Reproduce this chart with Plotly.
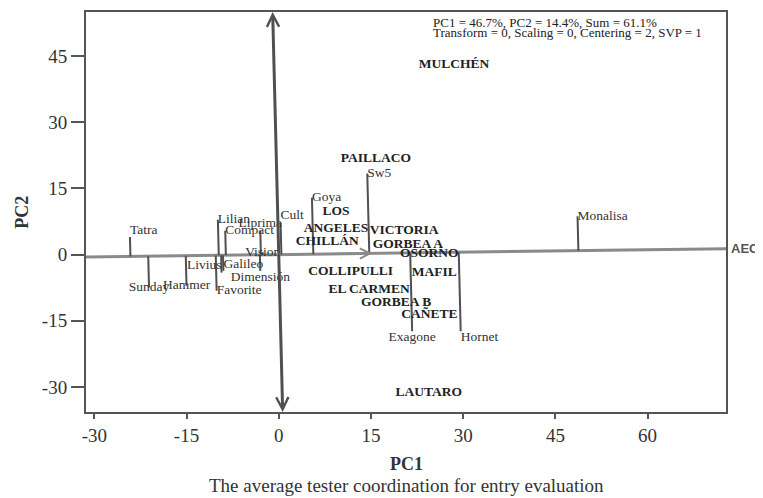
import plotly.graph_objects as go

# ---------------- data ----------------
genotypes = ["Tatra", "Sunday", "Hammer", "Lilian", "Compact", "Liprima", "Cult",
             "Vision", "Dimensión", "Livius", "Galileo", "Favorite", "Goya", "Sw5",
             "Exagone", "Hornet", "Monalisa"]
geno_pc1 = [-24.2, -21.1, -15.0, -9.9, -8.7, -3.0, 0.3,
            -2.6, -3.0, -9.3, -9.0, -10.1, 5.4, 14.4,
            21.7, 29.6, 48.6]
geno_pc2 = [4.0, -7.5, -7.1, 7.9, 5.4, 5.4, 7.2,
            0.5, -3.7, -4.1, -3.7, -8.2, 12.9, 18.4,
            -17.4, -17.4, 8.7]
geno_textpos = ["top right", "middle center", "middle center", "middle right",
                "middle right", "top center", "top right", "middle center",
                "bottom center", "top left", "top right", "middle right",
                "middle right", "middle right", "bottom center", "bottom right",
                "middle right"]

environments = ["MULCHÉN", "PAILLACO", "LOS ANGELES", "CHILLÁN", "VICTORIA",
                "GORBEA A", "OSORNO", "COLLIPULLI", "MAFIL", "EL CARMEN",
                "GORBEA B", "CAÑETE", "LAUTARO"]
env_pc1 = [28.5, 15.8, 9.3, 7.9, 20.4, 21.0, 24.5, 11.7, 25.3, 14.7, 19.1, 24.5, 24.4]
env_pc2 = [43.0, 21.8, 7.8, 2.9, 5.4, 2.2, 0.1, -3.9, -4.1, -8.0, -11.0, -13.7, -31.4]

aec_slope = 0.018          # direction of the average environment axis
aec_mean_pc1 = 15.2        # average environment (arrow tip) on the AEC
x_range = [-31.35, 72.75]
y_range = [-35.7, 55.0]
x_ticks = [-30, -15, 0, 15, 30, 45, 60]
y_ticks = [-30, -15, 0, 15, 30, 45]

info_lines = ["PC1 = 46.7%, PC2 = 14.4%, Sum = 61.1%",
              "Transform = 0, Scaling = 0, Centering = 2, SVP = 1"]
caption = "The average tester coordination for entry evaluation"

# ---------------- figure ----------------
SERIF = "Liberation Serif, Times New Roman, serif"
k = aec_slope
fig = go.Figure()

# AEC abscissa
fig.add_trace(go.Scatter(x=x_range, y=[k * x_range[0], k * x_range[1]], mode="lines",
                         line=dict(color="#8a8a8a", width=3), hoverinfo="skip",
                         showlegend=False))

# projection lines of genotypes onto the AEC
lx, ly = [], []
for gx, gy in zip(geno_pc1, geno_pc2):
    t = (gx + k * gy) / (1 + k * k)
    lx += [gx, t, None]
    ly += [gy, k * t, None]
fig.add_trace(go.Scatter(x=lx, y=ly, mode="lines", line=dict(color="#505050", width=2),
                         hoverinfo="skip", showlegend=False))

# genotype labels
fig.add_trace(go.Scatter(x=geno_pc1, y=geno_pc2, mode="text", text=genotypes,
                         textposition=geno_textpos,
                         textfont=dict(family=SERIF, size=13.5, color="#333333"),
                         cliponaxis=False, showlegend=False))

# environment labels
env_text = ["<b>" + e.replace("LOS ", "LOS<br>") + "</b>" for e in environments]
fig.add_trace(go.Scatter(x=env_pc1, y=env_pc2, mode="text", text=env_text,
                         textposition="middle center",
                         textfont=dict(family=SERIF, size=13.5, color="#222222"),
                         cliponaxis=False, showlegend=False))

annotations = []
# ATC ordinate (double arrow, perpendicular to AEC)
for yend in (y_range[1], y_range[0]):
    annotations.append(dict(x=-k * yend, y=yend, ax=0, ay=0, axref="x", ayref="y",
                            xref="x", yref="y", text="", showarrow=True,
                            arrowhead=5, arrowsize=0.8, arrowwidth=3,
                            arrowcolor="#505050", standoff=0))
# average environment arrow
annotations.append(dict(x=aec_mean_pc1, y=k * aec_mean_pc1, ax=aec_mean_pc1 - 6,
                        ay=k * (aec_mean_pc1 - 6), axref="x", ayref="y", xref="x", yref="y",
                        text="", showarrow=True, arrowhead=5, arrowsize=1.0,
                        arrowwidth=2, arrowcolor="#8a8a8a", standoff=0))
# AEC label
annotations.append(dict(x=x_range[1], y=k * x_range[1], xref="x", yref="y",
                        text="<b>AEC</b>", showarrow=False, xanchor="left", xshift=3,
                        font=dict(family="Liberation Sans, Arial, sans-serif", size=13,
                                  color="#555555")))
# info text
for i, line in enumerate(info_lines):
    annotations.append(dict(x=0.5386, y=0.9734 - 0.0256 * i, xref="paper", yref="paper",
                            text=line, showarrow=False, xanchor="left", yanchor="middle",
                            font=dict(family=SERIF, size=13, color="#222222")))
# axis titles and caption
annotations.append(dict(x=0.5, y=-0.129, xref="paper", yref="paper", text="<b>PC1</b>",
                        showarrow=False, yanchor="middle",
                        font=dict(family=SERIF, size=18, color="#333333")))
annotations.append(dict(x=-0.1005, y=0.5, xref="paper", yref="paper", text="<b>PC2</b>",
                        showarrow=False, textangle=-90, xanchor="center", yanchor="middle",
                        font=dict(family=SERIF, size=18, color="#333333")))
annotations.append(dict(x=0.5, y=-0.184, xref="paper", yref="paper", text=caption,
                        showarrow=False, yanchor="middle",
                        font=dict(family=SERIF, size=19, color="#333333")))

fig.update_layout(
    width=755, height=490,
    margin=dict(l=78, r=37, t=2, b=86),
    paper_bgcolor="white", plot_bgcolor="white",
    showlegend=False,
    annotations=annotations,
    xaxis=dict(range=x_range, tickvals=x_ticks, ticktext=[str(v) for v in x_ticks],
               ticks="outside", ticklen=5, tickwidth=2,
               tickcolor="#555555", showgrid=False, zeroline=False, showline=True,
               mirror=True, linecolor="#555555", linewidth=2,
               tickfont=dict(family=SERIF, size=19, color="#333333")),
    yaxis=dict(range=y_range, tickvals=y_ticks, ticktext=[str(v) for v in y_ticks],
               ticks="outside", ticklen=13, tickwidth=2,
               tickcolor="#555555", showgrid=False, zeroline=False, showline=True,
               mirror=True, linecolor="#555555", linewidth=2,
               tickfont=dict(family=SERIF, size=19, color="#333333")),
)

fig.write_html("out.html")
